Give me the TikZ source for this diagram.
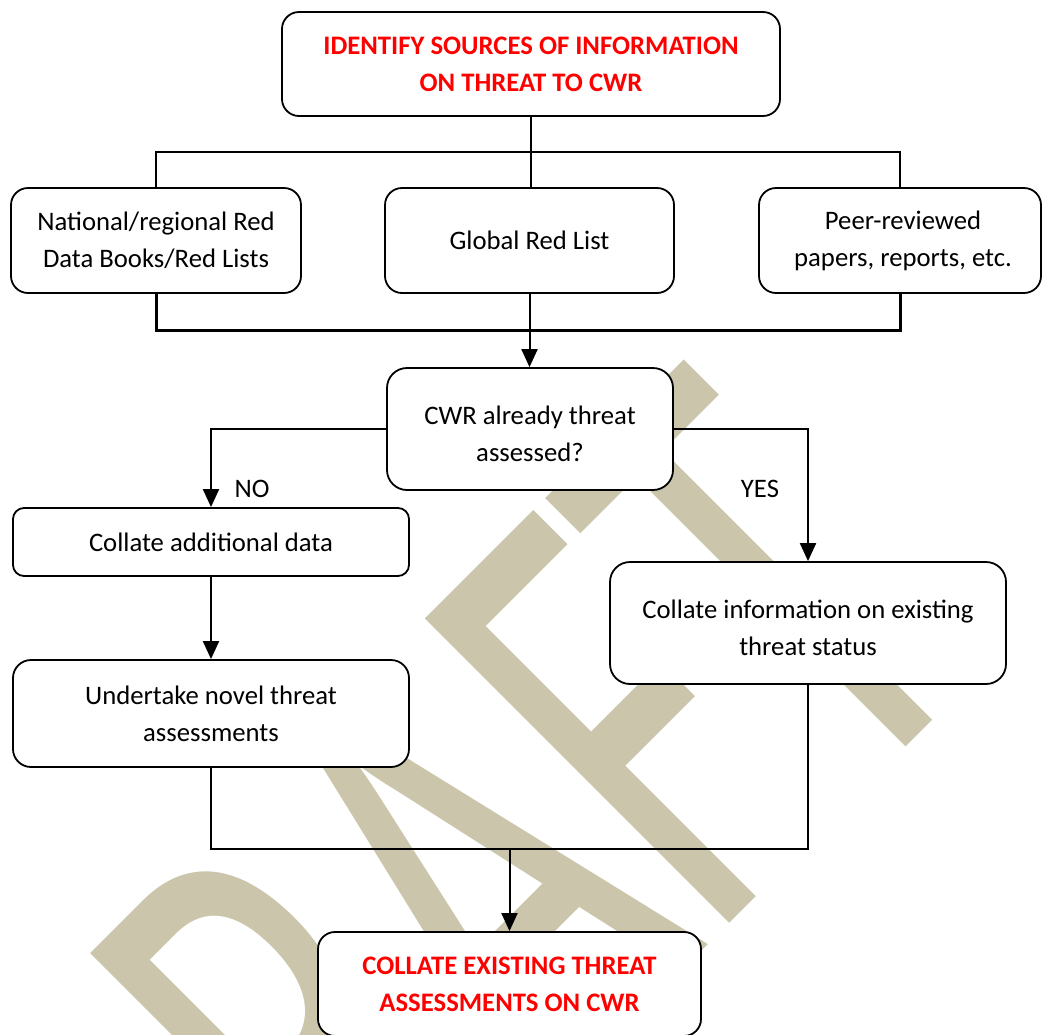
\documentclass[tikz,border=0pt]{standalone}
\usepackage{fontspec}
\setmainfont{Carlito}
\usetikzlibrary{arrows.meta}
\definecolor{wmtan}{RGB}{202,197,171}
\definecolor{headred}{RGB}{255,0,0}
% two-line label set a little below the middle of its box
\newcommand{\lowtext}[1]{\raisebox{-7pt}[\height][\depth]{\begin{tabular}{@{}c@{}}#1\end{tabular}}}
\begin{document}
\begin{tikzpicture}[x=1pt,y=-1pt,
  box/.style={draw, line width=1.8pt, fill=white, align=center, inner sep=0pt,
    font=\fontsize{26.7}{37}\selectfont},
  headbox/.style={box, text=headred, font=\fontsize{26.7}{37}\selectfont\bfseries},
  link/.style={line width=2pt},
  mergelink/.style={line width=3pt},
  arrowlink/.style={line width=2pt, -{Triangle[length=18pt,width=16pt]}},
  tag/.style={font=\fontsize{26.7}{30}\selectfont, inner sep=0pt}]
\useasboundingbox (0,0) rectangle (1042,1034);
\clip (0,0) rectangle (1042,1034);

% background watermark
\node[anchor=base west, rotate=45, inner sep=0pt, text=wmtan,
  font=\fontsize{671}{671}\selectfont] (wmark) at (190,1463) {\scalebox{0.63}[1]{DRAFT}};

% boxes
\node[headbox, minimum width=498pt, minimum height=104pt, rounded corners=17pt]
  (top) at (531,64) {IDENTIFY SOURCES OF INFORMATION\\ON THREAT TO CWR};
\node[box, minimum width=290pt, minimum height=105pt, rounded corners=17pt]
  (nat) at (156,240.5) {National/regional Red\\Data Books/Red Lists};
\node[box, minimum width=289pt, minimum height=105pt, rounded corners=17pt]
  (glob) at (529.5,240.5) {Global Red List};
\node[box, minimum width=282pt, minimum height=105pt, rounded corners=17pt]
  (peer) at (900,240.5) {\hspace*{6pt}Peer-reviewed\\\hspace*{6pt}papers, reports, etc.};
\node[box, minimum width=286pt, minimum height=122pt, rounded corners=20pt]
  (cwr) at (530,429) {\lowtext{CWR already threat\\assessed?}};
\node[box, minimum width=396pt, minimum height=68pt, rounded corners=11pt]
  (colA) at (211,542) {Collate additional data};
\node[box, minimum width=396pt, minimum height=107pt, rounded corners=18pt]
  (und) at (211,713.5) {Undertake novel threat\\assessments};
\node[box, minimum width=396pt, minimum height=122pt, rounded corners=20pt]
  (colI) at (808,623) {\lowtext{Collate information on existing\\threat status}};
\node[headbox, minimum width=383pt, minimum height=104pt, rounded corners=17pt]
  (final) at (509.5,984) {COLLATE EXISTING THREAT\\ASSESSMENTS ON CWR};

% branch labels
\node[tag] (nolbl) at (252,489) {NO};
\node[tag] (yeslbl) at (760,489) {YES};

% junction points
\coordinate (fanT) at (530,152);
\coordinate (fanB) at (530,330);
\coordinate (fanC) at (509.5,849);

% connectors
\draw[link] (top.south) -- (top.south |- glob.north);
\draw[link] (nat.north) |- (fanT) -| (peer.north);
\draw[mergelink] (nat.south) |- (fanB) -| (peer.south);
\draw[arrowlink] (glob.south) -- (glob.south |- cwr.north);
\draw[arrowlink] (cwr.west) -| (colA.north);
\draw[arrowlink] (cwr.east) -| (colI.north);
\draw[arrowlink] (colA.south) -- (und.north);
\draw[link] (und.south) |- (fanC) -| (colI.south);
\draw[arrowlink] (fanC) -- (final.north);
\end{tikzpicture}
\end{document}
